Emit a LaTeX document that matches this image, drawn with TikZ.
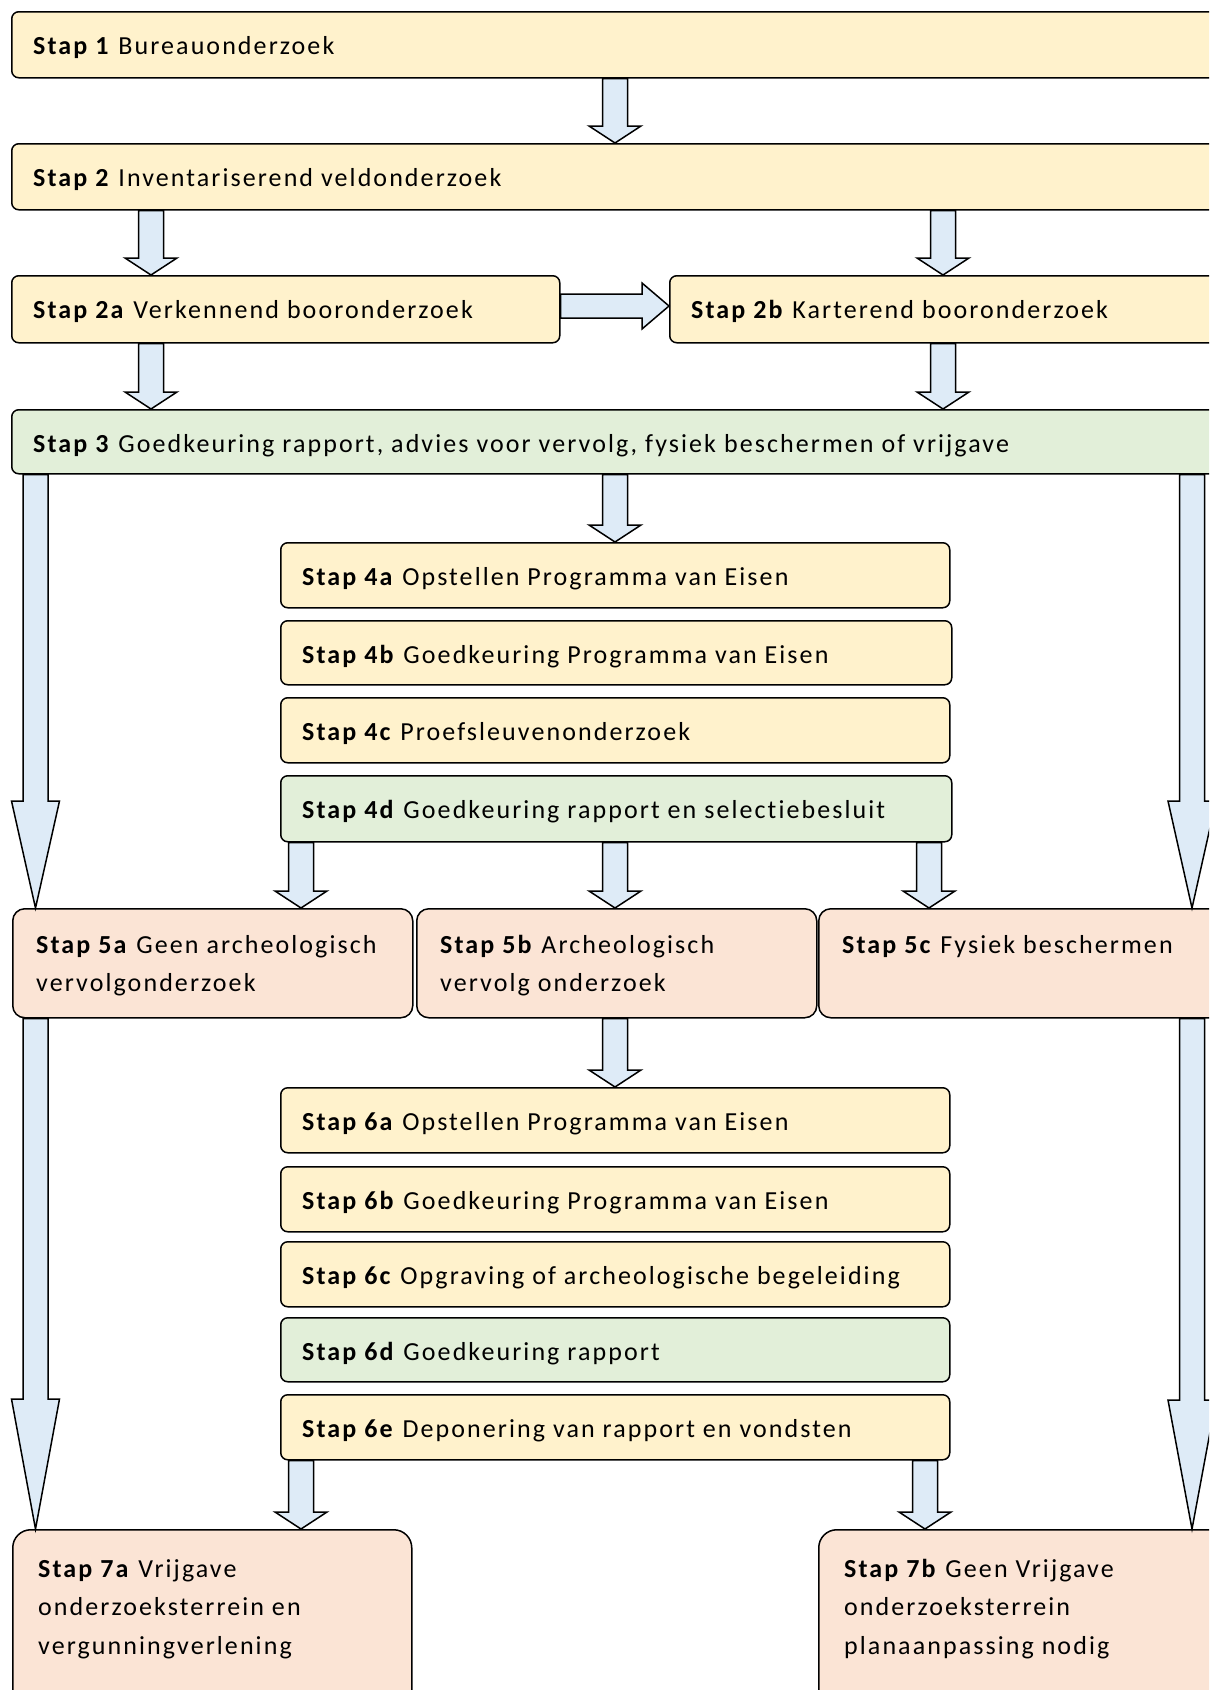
\documentclass[tikz,border=0pt]{standalone}
\usepackage{fontspec}
\setmainfont{Carlito}[LetterSpace=8,Ligatures={NoCommon}]
\usetikzlibrary{calc}
\definecolor{yel}{HTML}{FFF2CC}
\definecolor{grn}{HTML}{E2EFD9}
\definecolor{sal}{HTML}{FBE4D5}
\definecolor{blu}{HTML}{DEEBF7}
\tikzset{
  box/.style={draw=black, line width=1.5bp, inner sep=0pt, rounded corners=7bp},
  bigbox/.style={box, rounded corners=12bp},
  hugebox/.style={box, rounded corners=18bp},
  txt/.style={inner sep=0pt, align=left, font=\fontsize{26bp}{38.5bp}\selectfont, text=black},
  barrow/.style={draw=black, fill=blu, line width=1.5bp, line join=miter}
}
% box: name, style, x1, y1, x2, y2 (pixels, y downwards)
\newcommand\bx[6]{\node[#2,anchor=north west,minimum width={(#5-#3)*1bp},minimum height={(#6-#4)*1bp}] (#1) at (#3,#4) {};}
% text: name, box, pad, baseline offset, text
\newcommand\tx[5]{\node[txt,anchor=north west] (#1) at ([xshift=#3bp,yshift={-(#4-26.95)*1bp}]#2.north west) {\strut #5};}
% down arrow: x, from, to, head length, head half width, shaft half width
\newcommand\darr[6]{\draw[barrow] let \p1=(#1,0 |- #2.south), \p2=(#1,0 |- #3.north) in
  (\x1-#6bp,\y1) -- (\x1-#6bp,\y2+#4bp) -- (\x1-#5bp,\y2+#4bp) -- (\x2,\y2) -- (\x1+#5bp,\y2+#4bp) -- (\x1+#6bp,\y2+#4bp) -- (\x1+#6bp,\y1) -- cycle;}
\begin{document}
\begin{tikzpicture}[x=1bp,y=-1bp]
\path[use as bounding box] (0,0) rectangle (1209,1690);
\clip (0,0) rectangle (1209,1690);
% boxes
\bx{b1}{box,fill=yel}{11}{11}{1225}{77}
\bx{b2}{box,fill=yel}{11}{143}{1225}{209}
\bx{b2a}{box,fill=yel}{11}{275}{559}{342}
\bx{b2b}{box,fill=yel}{669}{275}{1225}{342}
\bx{b3}{box,fill=grn}{11}{409}{1225}{473}
\bx{b4a}{box,fill=yel}{280}{542}{949}{607}
\bx{b4b}{box,fill=yel}{280}{620}{951}{684}
\bx{b4c}{box,fill=yel}{280}{697}{949}{762}
\bx{b4d}{box,fill=grn}{280}{775}{951}{841}
\bx{b5a}{bigbox,fill=sal}{12}{908}{412}{1017}
\bx{b5b}{bigbox,fill=sal}{416}{908}{816}{1017}
\bx{b5c}{bigbox,fill=sal}{818}{908}{1230}{1017}
\bx{b6a}{box,fill=yel}{280}{1087}{949}{1152}
\bx{b6b}{box,fill=yel}{280}{1166}{949}{1231}
\bx{b6c}{box,fill=yel}{280}{1241}{949}{1306}
\bx{b6d}{box,fill=grn}{280}{1317}{949}{1381}
\bx{b6e}{box,fill=yel}{280}{1394}{949}{1459}
\bx{b7a}{hugebox,fill=sal}{12}{1529}{411}{1720}
\bx{b7b}{hugebox,fill=sal}{818}{1529}{1235}{1720}
% texts
\tx{t1}{b1}{22}{43}{\textbf{Stap 1} Bureauonderzoek}
\tx{t2}{b2}{22}{43}{\textbf{Stap 2} Inventariserend veldonderzoek}
\tx{t2a}{b2a}{22}{43}{\textbf{Stap 2a} Verkennend booronderzoek}
\tx{t2b}{b2b}{22}{43}{\textbf{Stap 2b} Karterend booronderzoek}
\tx{t3}{b3}{22}{43}{\textbf{Stap 3} Goedkeuring rapport, advies voor vervolg, fysiek beschermen of vrijgave}
\tx{t4a}{b4a}{22}{43}{\textbf{Stap 4a} Opstellen Programma van Eisen}
\tx{t4b}{b4b}{22}{43}{\textbf{Stap 4b} Goedkeuring Programma van Eisen}
\tx{t4c}{b4c}{22}{43}{\textbf{Stap 4c} Proefsleuvenonderzoek}
\tx{t4d}{b4d}{22}{43}{\textbf{Stap 4d} Goedkeuring rapport en selectiebesluit}
\tx{t5a}{b5a}{24}{45}{\textbf{Stap 5a} Geen archeologisch\\vervolgonderzoek}
\tx{t5b}{b5b}{24}{45}{\textbf{Stap 5b} Archeologisch\\vervolg onderzoek}
\tx{t5c}{b5c}{24}{45}{\textbf{Stap 5c} Fysiek beschermen}
\tx{t6a}{b6a}{22}{43}{\textbf{Stap 6a} Opstellen Programma van Eisen}
\tx{t6b}{b6b}{22}{43}{\textbf{Stap 6b} Goedkeuring Programma van Eisen}
\tx{t6c}{b6c}{22}{43}{\textbf{Stap 6c} Opgraving of archeologische begeleiding}
\tx{t6d}{b6d}{22}{43}{\textbf{Stap 6d} Goedkeuring rapport}
\tx{t6e}{b6e}{22}{43}{\textbf{Stap 6e} Deponering van rapport en vondsten}
\tx{t7a}{b7a}{26}{48}{\textbf{Stap 7a} Vrijgave\\onderzoeksterrein en\\vergunningverlening}
\tx{t7b}{b7b}{26}{48}{\textbf{Stap 7b} Geen Vrijgave\\onderzoeksterrein\\planaanpassing nodig}
% arrows
\darr{615}{b1}{b2}{17}{26}{12.5}
\darr{151}{b2}{b2a}{17}{26}{12.5}
\darr{943}{b2}{b2b}{17}{26}{12.5}
\darr{151}{b2a}{b3}{17}{26}{12.5}
\darr{943}{b2b}{b3}{17}{26}{12.5}
\draw[barrow] let \p1=(b2a.east |- 0,306), \p2=(b2b.west |- 0,306) in
  (\x1,\y1+12bp) -- (\x2-27bp,\y1+12bp) -- (\x2-27bp,\y1+23bp) -- (\x2,\y1) -- (\x2-27bp,\y1-23bp) -- (\x2-27bp,\y1-12bp) -- (\x1,\y1-12bp) -- cycle;
\darr{615}{b3}{b4a}{17}{26}{12.5}
\darr{35.5}{b3}{b5a}{107}{24}{12.5}
\darr{1192}{b3}{b5c}{107}{24}{12.5}
\darr{301}{b4d}{b5a}{17}{26}{12.5}
\darr{615}{b4d}{b5b}{17}{26}{12.5}
\darr{929}{b4d}{b5c}{17}{26}{12.5}
\darr{615}{b5b}{b6a}{17}{26}{12.5}
\darr{35.5}{b5a}{b7a}{130}{24}{12.5}
\darr{1192}{b5c}{b7b}{129}{24}{12.5}
\darr{301}{b6e}{b7a}{17}{26}{12.5}
\darr{925}{b6e}{b7b}{17}{26}{12.5}
\end{tikzpicture}
\end{document}
